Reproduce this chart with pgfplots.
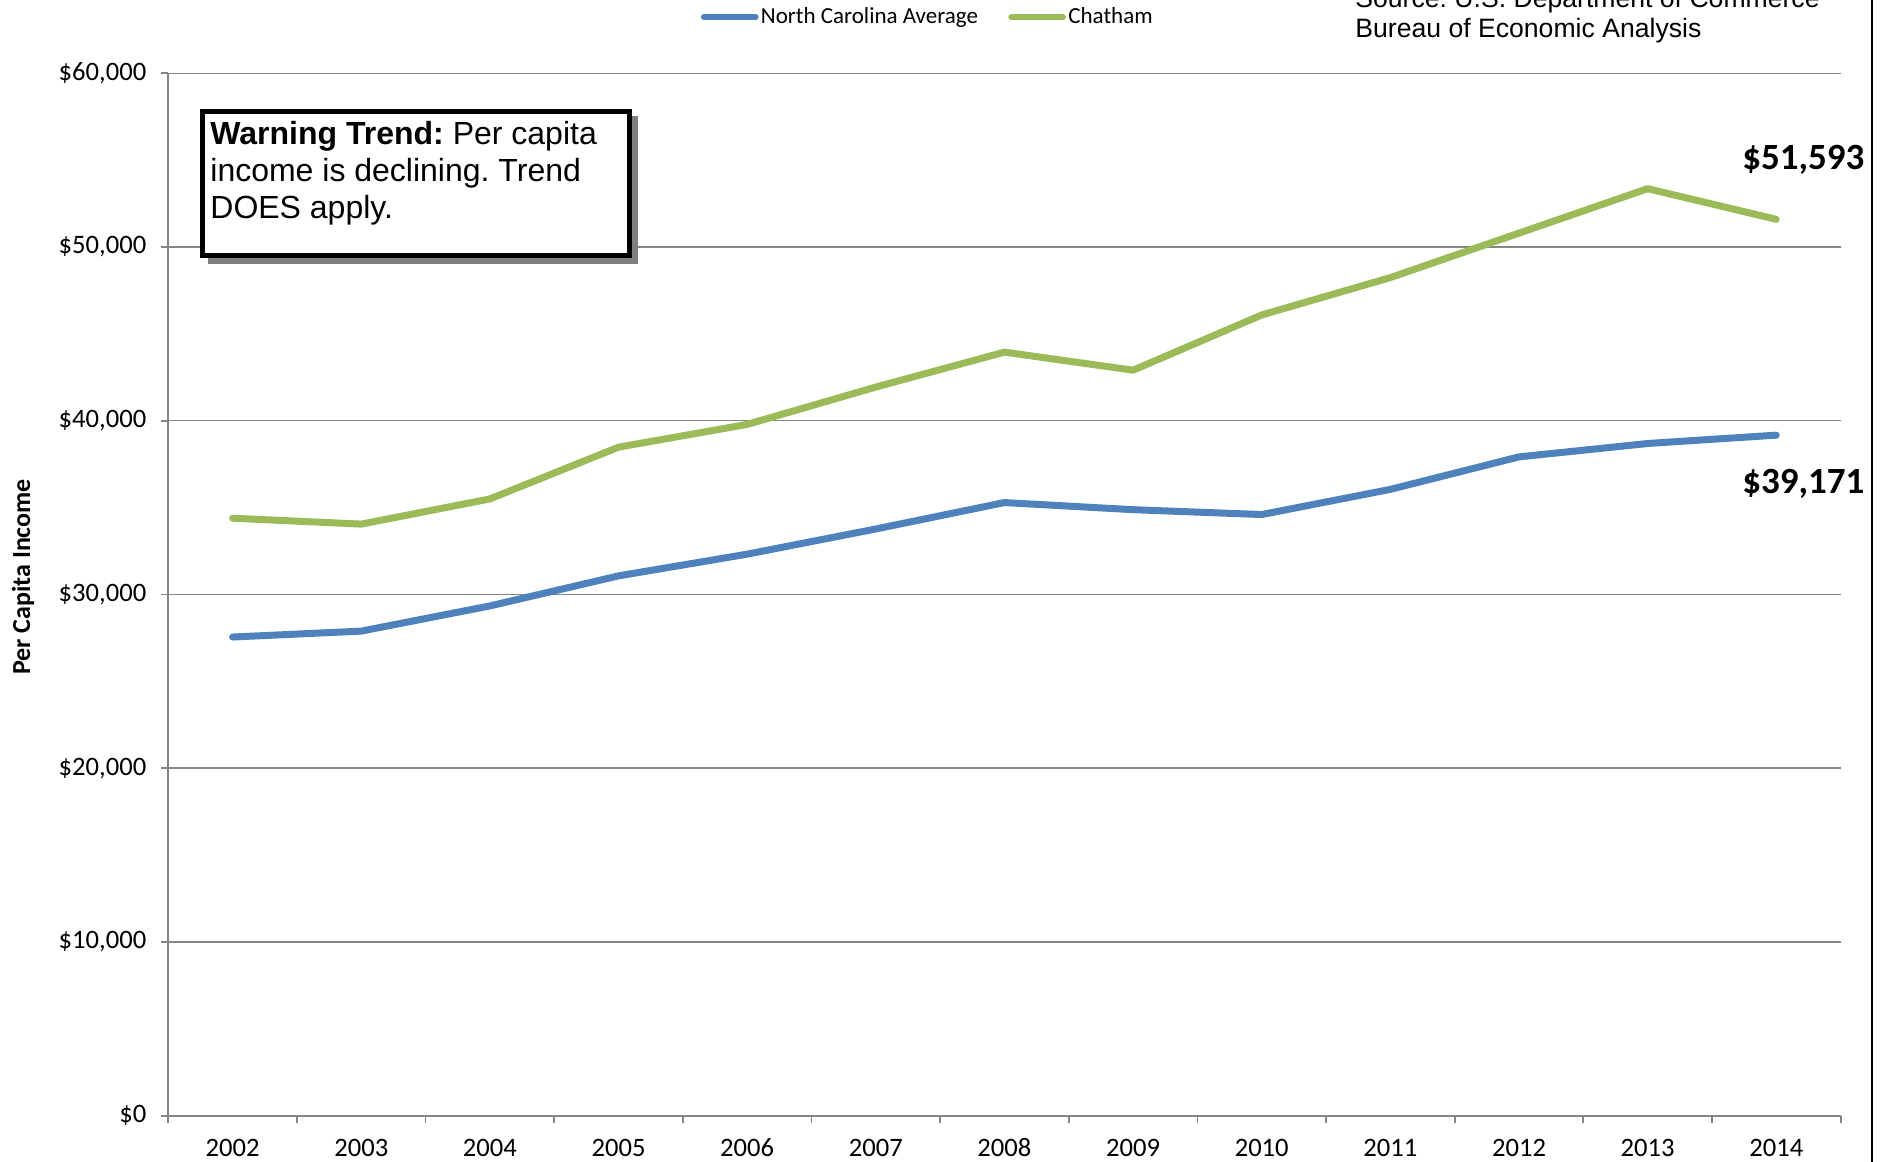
\documentclass[border=0pt]{standalone}
\usepackage{fontspec}
\setmainfont{Carlito}
\newfontfamily\arial{Liberation Sans}
\usepackage{pgfplots}
\pgfplotsset{compat=1.18}
\frenchspacing

\definecolor{ncblue}{RGB}{79,129,189}
\definecolor{chgreen}{RGB}{155,187,89}
\definecolor{gridgray}{RGB}{134,134,134}

\begin{document}
\begin{tikzpicture}
\useasboundingbox (0pt,0pt) rectangle (942.5pt,-581pt);
\begin{axis}[
  at={(84.15pt,-557.8pt)}, anchor=south west,
  scale only axis, width=836.15pt, height=521.15pt,
  xmin=-0.5, xmax=12.5, ymin=0, ymax=60000,
  axis x line*=bottom, axis y line*=left,
  axis line style={gridgray, line width=0.9pt},
  xtick={0,...,12},
  xticklabels={2002,2003,2004,2005,2006,2007,2008,2009,2010,2011,2012,2013,2014},
  minor xtick={-0.5,0.5,...,12.5},
  major x tick style={draw=none},
  minor x tick style={gridgray, line width=0.9pt},
  y tick style={gridgray, line width=0.9pt},
  tick align=outside,
  major tick length=3.5pt, minor tick length=3.5pt,
  ytick={0,10000,20000,30000,40000,50000,60000},
  yticklabels={{\$0},{\$10,000},{\$20,000},{\$30,000},{\$40,000},{\$50,000},{\$60,000}},
  scaled y ticks=false,
  ymajorgrids, grid style={gridgray, line width=0.75pt},
  tick label style={font=\fontsize{13.3}{16}\selectfont},
  yticklabel style={xshift=-4pt},
  xticklabel style={text height=9pt, text depth=0pt, yshift=-4.3pt},
  /pgf/number format/assume math mode=true,
  clip=false,
  legend columns=2,
  legend style={at={(0.4543,1.054)}, anchor=center, draw=none, fill=none,
    font=\fontsize{11.5}{13}\selectfont, inner sep=0pt,
    nodes={inner sep=1.2pt},
    /tikz/every even column/.append style={column sep=14pt}},
  legend image code/.code={\draw[line width=2.8pt, line cap=round] (0pt,0pt) -- (26pt,0pt);},
]
\addplot[ncblue, line width=3.5pt, line cap=round, line join=round] coordinates {
  (0,27550) (1,27890) (2,29340) (3,31070) (4,32320) (5,33770) (6,35290)
  (7,34880) (8,34600) (9,36050) (10,37920) (11,38690) (12,39171)
};
\addlegendentry{North Carolina Average}
\addplot[chgreen, line width=3.5pt, line cap=round, line join=round] coordinates {
  (0,34390) (1,34050) (2,35500) (3,38480) (4,39790) (5,41940) (6,43950)
  (7,42910) (8,46090) (9,48240) (10,50800) (11,53360) (12,51593)
};
\addlegendentry{Chatham}
\node[font=\bfseries\fontsize{18.5}{20}\selectfont] at (axis cs:12.21,55010) {\$51,593};
\node[font=\bfseries\fontsize{18.5}{20}\selectfont] at (axis cs:12.21,36360) {\$39,171};
\end{axis}

% annotation box with shadow
\fill[gray] (104pt,-58pt) rectangle (319pt,-132pt);
\draw[line width=2.5pt, fill=white] (101.25pt,-55.75pt) rectangle (314.75pt,-127.75pt);
\node[anchor=north west, align=left, inner sep=0pt, font=\arial\fontsize{16}{18.5}\selectfont]
  at (105pt,-60.5pt) {\textbf{Warning Trend:} Per capita\\income is declining. Trend\\DOES apply.};

% source note (its first line is cut by the top edge, as in the original)
\node[anchor=base west, align=left, inner sep=0pt, font=\arial\fontsize{13.3}{15}\selectfont]
  at (677.5pt,-18.75pt) {Source: U.S. Department of Commerce\\Bureau of Economic Analysis};

\node[rotate=90, font=\bfseries\fontsize{13}{15}\selectfont] at (11.5pt,-288.5pt) {Per Capita Income};

\draw[line width=1.2pt] (936pt,10pt) -- (936pt,-590pt);
\end{tikzpicture}
\end{document}
